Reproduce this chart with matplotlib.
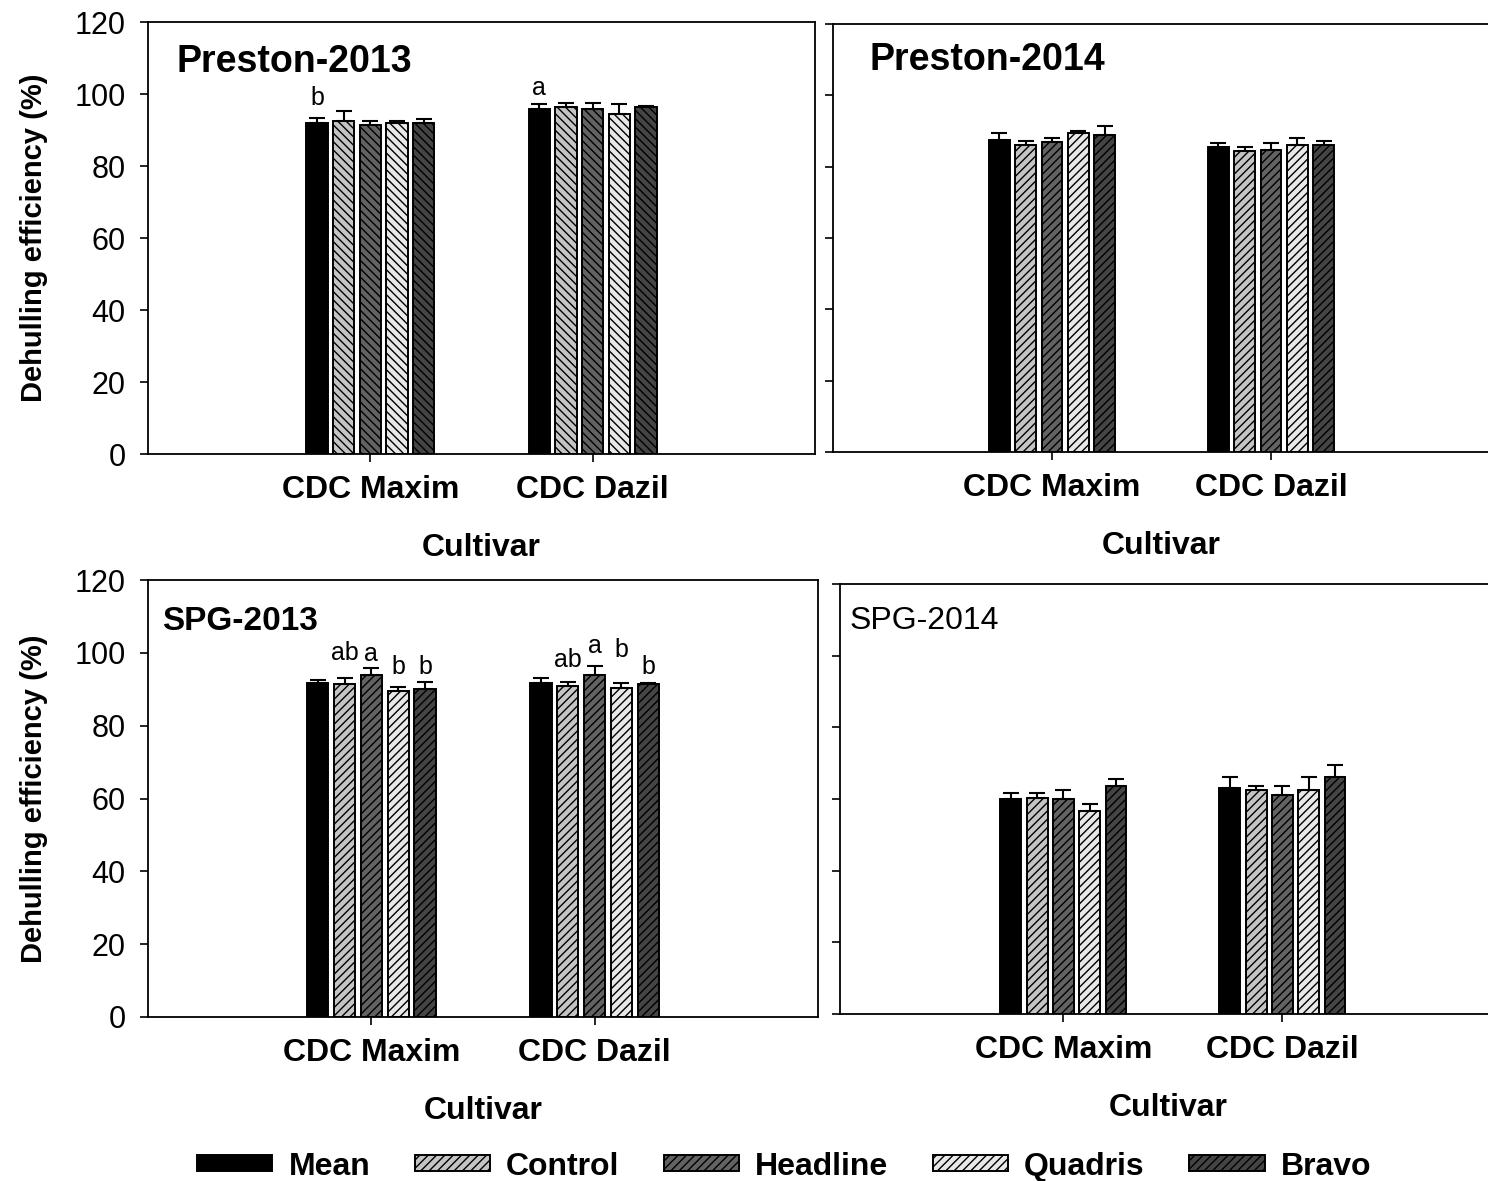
import matplotlib.pyplot as plt
import numpy as np

plt.rcParams['font.family'] = ['Liberation Sans', 'DejaVu Sans']
plt.rcParams['hatch.linewidth'] = 1.0

cultivars = ['CDC Maxim', 'CDC Dazil']
treatments = ['Mean', 'Control', 'Headline', 'Quadris', 'Bravo']

# one row per treatment: [CDC Maxim, CDC Dazil]
preston13 = [[92.0, 95.7], [92.6, 96.3], [91.4, 95.7], [92.0, 94.4], [92.0, 96.5]]
preston13_err = [[1.2, 1.4], [2.6, 1.3], [1.2, 1.9], [0.6, 2.7], [1.1, 0.3]]

preston14 = [[87.4, 85.5], [86.2, 84.4], [86.9, 84.7], [89.5, 86.2], [88.8, 86.0]]
preston14_err = [[1.9, 1.2], [1.1, 1.1], [1.2, 2.0], [0.4, 1.9], [2.5, 1.3]]

spg13 = [[91.6, 91.6], [91.4, 90.9], [93.9, 93.9], [89.5, 90.3], [90.2, 91.4]]
spg13_err = [[1.0, 1.6], [1.8, 1.1], [1.8, 2.5], [1.1, 1.3], [1.8, 0.2]]

spg14 = [[59.9, 63.0], [60.4, 62.4], [59.9, 61.0], [56.7, 62.4], [63.7, 66.2]]
spg14_err = [[1.9, 3.2], [1.4, 1.3], [2.5, 2.7], [2.0, 3.8], [1.8, 3.2]]

# significance letters: (cultivar index, treatment index, letter, height)
preston13_letters = [(0, 0, 'b', 98.9), (1, 0, 'a', 101.7)]
spg13_letters = [(0, 1, 'ab', 99.9), (0, 2, 'a', 99.7), (0, 3, 'b', 96.1), (0, 4, 'b', 96.1),
                 (1, 1, 'ab', 98.1), (1, 2, 'a', 102.0), (1, 3, 'b', 100.7), (1, 4, 'b', 96.2)]

faces = ['black', '#c4c4c4', '#626262', '#e8e8e8', '#444444']
W, H = 1488, 1181
fig = plt.figure(figsize=(W / 100, H / 100), dpi=100)


def px_axes(left, top, width, height):
    return fig.add_axes([left / W, 1 - (top + height) / H, width / W, height / H])


def panel(ax, vals, errs, title, tpos, tsize, bold, hatch_char, letters, ticklabels, xlim):
    x = np.arange(1, 3)
    step = 0.12
    width = 0.095
    bars = []
    for i, name in enumerate(treatments):
        pos = x + (i - 2) * step
        h = '' if i == 0 else hatch_char * 4
        b = ax.bar(pos, vals[i], width, color=faces[i], edgecolor='black',
                   linewidth=1.4, hatch=h, label=name, zorder=2)
        ax.errorbar(pos, vals[i], yerr=[[0, 0], errs[i]], fmt='none', ecolor='black',
                    elinewidth=1.5, capsize=6, capthick=1.5, zorder=3)
        bars.append(b)
    for ci, ti, txt, y in letters:
        ax.text(x[ci] + (ti - 2) * step, y, txt, ha='center', va='center', fontsize=18)
    ax.set_xlim(*xlim)
    ax.set_ylim(0, 120)
    ax.set_yticks(range(0, 121, 20))
    ax.set_xticks(x)
    ax.set_xticklabels(cultivars, fontsize=23, fontweight='bold')
    ax.tick_params(axis='x', length=6, width=1.2, pad=9)
    ax.tick_params(axis='y', length=6, width=1.2, pad=10, labelsize=22)
    if not ticklabels:
        ax.set_yticklabels([])
    else:
        ax.set_ylabel('Dehulling efficiency (%)', fontsize=21, fontweight='bold', labelpad=19)
    ax.set_xlabel('Cultivar', fontsize=23, fontweight='bold', labelpad=20)
    for s in ax.spines.values():
        s.set_linewidth(1.3)
    ax.text(tpos[0], tpos[1], title, transform=ax.transAxes, fontsize=tsize,
            fontweight='bold' if bold else 'normal', va='center', ha='left')
    return bars


ax1 = px_axes(148, 22, 667, 432)
ax2 = px_axes(833, 24, 657, 428)
ax3 = px_axes(148, 580, 670, 437)
ax4 = px_axes(840, 584, 657, 430)

panel(ax1, preston13, preston13_err, 'Preston-2013', (0.043, 0.907), 27, True, '\\',
      preston13_letters, True, (0, 3))
panel(ax2, preston14, preston14_err, 'Preston-2014', (0.056, 0.916), 27, True, '/',
      [], False, (0, 3))
panel(ax3, spg13, spg13_err, 'SPG-2013', (0.021, 0.904), 24, True, '/',
      spg13_letters, True, (0, 3))
handles = panel(ax4, spg14, spg14_err, 'SPG-2014', (0.015, 0.914), 23, False, '/',
                [], False, (-0.02, 2.98))

fig.legend(handles, treatments, loc='center', bbox_to_anchor=(0.527, 0.012), ncol=5,
           frameon=False, handlelength=2.35, handleheight=0.4,
           handletextpad=0.5, columnspacing=1.4, borderpad=0,
           prop={'size': 23, 'weight': 'bold'})

fig.savefig('out.png', dpi=100)
